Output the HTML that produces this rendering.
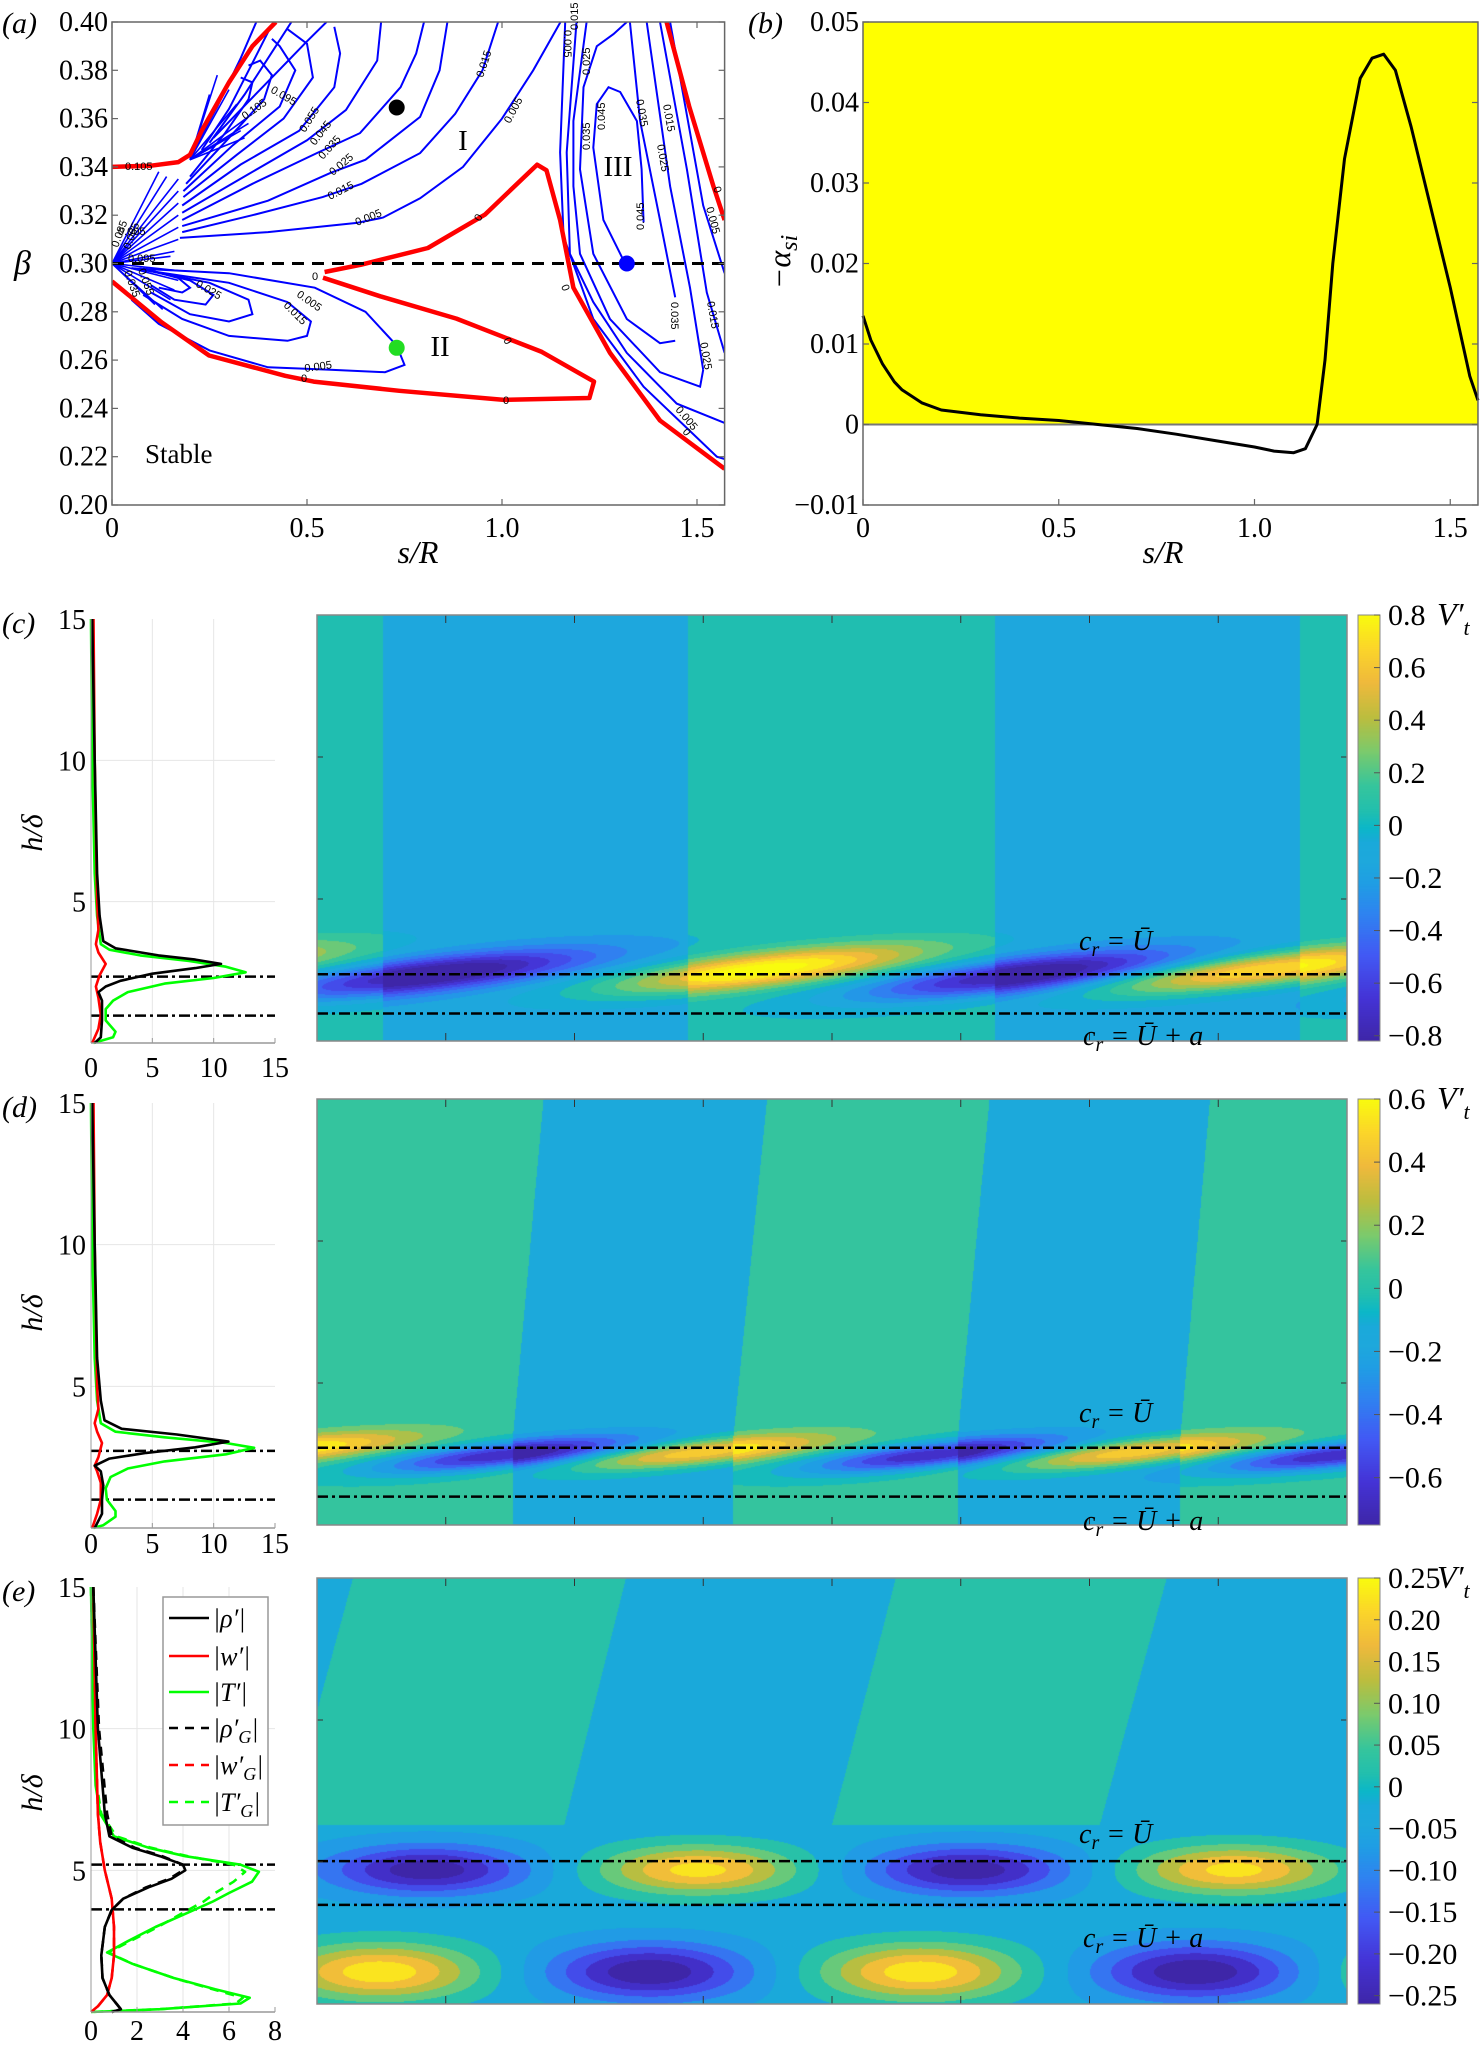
<!DOCTYPE html>
<html><head><meta charset="utf-8"><title>Stability map and disturbance fields</title>
<style>
html,body{margin:0;padding:0;background:#fff;}
#root{position:relative;width:1483px;height:2050px;overflow:hidden;background:#fff;}
canvas{position:absolute;}
svg{position:absolute;left:0;top:0;}
text{font-family:"Liberation Serif",serif;fill:#000;}
.it{font-style:italic;}
.cl{font-family:"Liberation Sans",sans-serif;font-size:11px;}
</style></head>
<body>
<div id="root">
<canvas id="heatC" width="1030" height="426" style="left:317px;top:615px"></canvas>
<canvas id="heatD" width="1030" height="426" style="left:317px;top:1099px"></canvas>
<canvas id="heatE" width="1030" height="426" style="left:317px;top:1578px"></canvas>
<canvas id="cbC" width="22" height="426" style="left:1358px;top:615px"></canvas>
<canvas id="cbD" width="22" height="426" style="left:1358px;top:1099px"></canvas>
<canvas id="cbE" width="22" height="426" style="left:1358px;top:1578px"></canvas>
<svg id="fig" width="1483" height="2050" viewBox="0 0 1483 2050" xmlns="http://www.w3.org/2000/svg">
  <g id="gA"></g>
  <g id="gB"></g>
  <g id="gP"></g>
  <g id="gH"></g>
  <text x="2" y="33" class="it" font-size="30">(a)</text>
  <text x="748" y="33" class="it" font-size="30">(b)</text>
  <text x="2" y="633" class="it" font-size="30">(c)</text>
  <text x="2" y="1117" class="it" font-size="30">(d)</text>
  <text x="2" y="1601" class="it" font-size="30">(e)</text>
  <text x="418" y="563" class="it" font-size="32" text-anchor="middle">s/R</text>
  <text x="1163" y="563" class="it" font-size="32" text-anchor="middle">s/R</text>
  <text x="14" y="274" class="it" font-size="34">β</text>
  <text transform="translate(790,262) rotate(-90)" class="it" font-size="32" text-anchor="middle">−α<tspan font-size="24" dy="7">si</tspan></text>
  <text x="145" y="463" font-size="27">Stable</text>
  <text x="463" y="150" font-size="29" text-anchor="middle">I</text>
  <text x="440" y="356" font-size="29" text-anchor="middle">II</text>
  <text x="618" y="176" font-size="29" text-anchor="middle">III</text>
  <text transform="translate(42,833) rotate(-90)" class="it" font-size="30" text-anchor="middle">h/δ</text>
  <text transform="translate(42,1313) rotate(-90)" class="it" font-size="30" text-anchor="middle">h/δ</text>
  <text transform="translate(42,1793) rotate(-90)" class="it" font-size="30" text-anchor="middle">h/δ</text>
  <text x="1079" y="950" class="it" font-size="28">c<tspan font-size="20" dy="6">r</tspan><tspan dy="-6"> = Ū</tspan></text>
  <text x="1083" y="1045" class="it" font-size="28">c<tspan font-size="20" dy="6">r</tspan><tspan dy="-6"> = Ū + a</tspan></text>
  <text x="1079" y="1422" class="it" font-size="28">c<tspan font-size="20" dy="6">r</tspan><tspan dy="-6"> = Ū</tspan></text>
  <text x="1083" y="1530" class="it" font-size="28">c<tspan font-size="20" dy="6">r</tspan><tspan dy="-6"> = Ū + a</tspan></text>
  <text x="1079" y="1843" class="it" font-size="28">c<tspan font-size="20" dy="6">r</tspan><tspan dy="-6"> = Ū</tspan></text>
  <text x="1083" y="1947" class="it" font-size="28">c<tspan font-size="20" dy="6">r</tspan><tspan dy="-6"> = Ū + a</tspan></text>
  <text x="1437" y="625" class="it" font-size="32">V′<tspan font-size="22" dy="10">t</tspan></text>
  <text x="1437" y="1109" class="it" font-size="32">V′<tspan font-size="22" dy="10">t</tspan></text>
  <text x="1437" y="1588" class="it" font-size="32">V′<tspan font-size="22" dy="10">t</tspan></text>
  <g>
    <rect x="163" y="1597" width="105" height="228" fill="#fff" stroke="#999" stroke-width="1.5"/>
    <line x1="169" y1="1618" x2="209" y2="1618" stroke="#000" stroke-width="2.5"/>
    <text x="213" y="1627" class="it" font-size="26">|ρ′|</text>
    <line x1="169" y1="1656" x2="209" y2="1656" stroke="#f00" stroke-width="2.5"/>
    <text x="213" y="1665" class="it" font-size="26">|w′|</text>
    <line x1="169" y1="1692" x2="209" y2="1692" stroke="#0f0" stroke-width="2.5"/>
    <text x="213" y="1701" class="it" font-size="26">|T′|</text>
    <line x1="169" y1="1728" x2="209" y2="1728" stroke="#000" stroke-width="2.5" stroke-dasharray="9,7"/>
    <text x="213" y="1737" class="it" font-size="26">|ρ′<tspan font-size="18" dy="6">G</tspan><tspan dy="-6">|</tspan></text>
    <line x1="169" y1="1765" x2="209" y2="1765" stroke="#f00" stroke-width="2.5" stroke-dasharray="9,7"/>
    <text x="213" y="1774" class="it" font-size="26">|w′<tspan font-size="18" dy="6">G</tspan><tspan dy="-6">|</tspan></text>
    <line x1="169" y1="1802" x2="209" y2="1802" stroke="#0f0" stroke-width="2.5" stroke-dasharray="9,7"/>
    <text x="213" y="1811" class="it" font-size="26">|T′<tspan font-size="18" dy="6">G</tspan><tspan dy="-6">|</tspan></text>
  </g>
  <g class="cl">
    <text class="cl" transform="translate(357,226) rotate(-22)">0.005</text>
    <text class="cl" transform="translate(330,200) rotate(-27)">0.015</text>
    <text class="cl" transform="translate(333,176) rotate(-40)">0.025</text>
    <text class="cl" transform="translate(323,160) rotate(-48)">0.035</text>
    <text class="cl" transform="translate(315,146) rotate(-52)">0.045</text>
    <text class="cl" transform="translate(305,133) rotate(-58)">0.055</text>
    <text class="cl" transform="translate(270,92) rotate(30)">0.095</text>
    <text class="cl" transform="translate(245,120) rotate(-35)">0.105</text>
    <text class="cl" transform="translate(483,78) rotate(-72)">0.015</text>
    <text class="cl" transform="translate(510,124) rotate(-62)">0.005</text>
    <text class="cl" transform="translate(296,296) rotate(35)">0.005</text>
    <text class="cl" transform="translate(283,306) rotate(45)">0.015</text>
    <text class="cl" transform="translate(305,372) rotate(-8)">0.005</text>
    <text class="cl" transform="translate(195,286) rotate(30)">0.025</text>
    <text class="cl" transform="translate(480,222) rotate(-60)">0</text>
    <text class="cl" transform="translate(312,280)">0</text>
    <text class="cl" transform="translate(503,340) rotate(60)">0</text>
    <text class="cl" transform="translate(503,404)">0</text>
    <text class="cl" transform="translate(301,382)">0</text>
    <text class="cl" transform="translate(561,286) rotate(70)">0</text>
    <text class="cl" transform="translate(564,30) rotate(90)">0.005</text>
    <text class="cl" transform="translate(578,30) rotate(-90)">0.015</text>
    <text class="cl" transform="translate(590,75) rotate(-90)">0.025</text>
    <text class="cl" transform="translate(590,150) rotate(-90)">0.035</text>
    <text class="cl" transform="translate(605,130) rotate(-90)">0.045</text>
    <text class="cl" transform="translate(636,100) rotate(80)">0.035</text>
    <text class="cl" transform="translate(663,105) rotate(80)">0.015</text>
    <text class="cl" transform="translate(657,145) rotate(80)">0.025</text>
    <text class="cl" transform="translate(706,208) rotate(75)">0.005</text>
    <text class="cl" transform="translate(644,230) rotate(-90)">0.045</text>
    <text class="cl" transform="translate(671,302) rotate(90)">0.035</text>
    <text class="cl" transform="translate(707,302) rotate(80)">0.015</text>
    <text class="cl" transform="translate(700,343) rotate(80)">0.025</text>
    <text class="cl" transform="translate(675,410) rotate(50)">0.005</text>
    <text class="cl" transform="translate(682,432) rotate(50)">0</text>
    <text class="cl" transform="translate(713,188) rotate(70)">0</text>
    <text class="cl" transform="translate(125,170)">0.105</text>
    <text class="cl" transform="translate(118,248) rotate(-70)">0.085</text>
    <text class="cl" transform="translate(130,250) rotate(-70)">0.065</text>
    <text class="cl" transform="translate(124,272) rotate(70)">0.035</text>
    <text class="cl" transform="translate(138,270) rotate(70)">0.055</text>
    <text class="cl" transform="translate(118,235)">0.005</text>
    <text class="cl" transform="translate(128,262)">0.095</text>
  </g>
</svg>
</div>
<script>
// ===================== PANEL (a) data =====================
const aXTicks=[0,0.5,1.0,1.5];
const aXTickLabels=['0','0.5','1.0','1.5'];
const aYTicks=[0.40,0.38,0.36,0.34,0.32,0.30,0.28,0.26,0.24,0.22,0.20];
const aYTickLabels=['0.40','0.38','0.36','0.34','0.32','0.30','0.28','0.26','0.24','0.22','0.20'];
const aRed1=[[0,0.340],[0.1,0.3405],[0.17,0.342],[0.2,0.345],[0.23,0.355],[0.3,0.375],[0.36,0.39],[0.42,0.40]];
const aRed2=[[0,0.2926],[0.127,0.2757],[0.249,0.2619],[0.444,0.2535],[0.517,0.2511],[0.737,0.2473],[1.005,0.2435],[1.224,0.2443],[1.236,0.2511],[1.102,0.2634],[0.883,0.2772],[0.688,0.2864],[0.541,0.2941]];
const aRed3=[[0.545,0.2965],[0.639,0.2995],[0.810,0.3064],[0.956,0.3202],[1.090,0.3409],[1.114,0.3386],[1.149,0.318],[1.183,0.29],[1.277,0.263],[1.405,0.235],[1.5708,0.215]];
const aRed4=[[1.422,0.40],[1.48,0.365],[1.542,0.332],[1.5708,0.318]];
const aBlueI=[
 [[0.174,0.3106],[0.4,0.313],[0.628,0.3168],[0.695,0.319],[0.79,0.327],[0.9,0.34],[1.0,0.36],[1.08,0.38],[1.15,0.40]],
 [[0.18,0.313],[0.36,0.32],[0.54,0.3275],[0.64,0.333],[0.79,0.3457],[0.88,0.362],[0.95,0.38],[0.99,0.40]],
 [[0.18,0.3155],[0.4,0.326],[0.56,0.3375],[0.65,0.343],[0.79,0.3607],[0.84,0.38],[0.86,0.40]],
 [[0.18,0.318],[0.36,0.333],[0.525,0.3457],[0.636,0.354],[0.74,0.373],[0.78,0.387],[0.8,0.40]],
 [[0.18,0.321],[0.35,0.337],[0.5,0.351],[0.6,0.3636],[0.68,0.384],[0.69,0.40]],
 [[0.18,0.324],[0.33,0.341],[0.48,0.355],[0.57,0.373],[0.585,0.387],[0.57,0.398]],
 [[0.183,0.3275],[0.32,0.345],[0.44,0.36],[0.515,0.377],[0.5,0.391],[0.45,0.397]],
 [[0.183,0.33],[0.31,0.349],[0.43,0.365],[0.47,0.38],[0.43,0.39],[0.41,0.393]],
 [[0.19,0.333],[0.3,0.352],[0.39,0.368],[0.41,0.378],[0.38,0.384],[0.35,0.382]],
 [[0.2,0.336],[0.29,0.354],[0.35,0.368],[0.36,0.375],[0.33,0.377]],
 [[0.21,0.347],[0.27,0.365],[0.33,0.385],[0.37,0.40]],
 [[0.23,0.347],[0.3,0.364],[0.36,0.383],[0.41,0.399]],
 [[0.25,0.35],[0.34,0.37],[0.42,0.39],[0.46,0.40]],
 [[0.26,0.352],[0.38,0.372],[0.5,0.392],[0.55,0.40]]
];
const aBlueII=[
 [[0.05,0.298],[0.3,0.296],[0.52,0.29],[0.65,0.28],[0.73,0.266],[0.75,0.258],[0.7,0.255],[0.56,0.256],[0.4,0.257],[0.25,0.264],[0.12,0.275],[0.05,0.285]],
 [[0.05,0.298],[0.3,0.292],[0.45,0.284],[0.51,0.276],[0.5,0.27],[0.45,0.268],[0.3,0.27],[0.18,0.277],[0.08,0.287]],
 [[0.06,0.298],[0.25,0.292],[0.35,0.285],[0.36,0.279],[0.3,0.276],[0.2,0.279],[0.1,0.288]],
 [[0.07,0.298],[0.2,0.293],[0.26,0.287],[0.24,0.283],[0.16,0.285],[0.1,0.291]],
 [[0.08,0.298],[0.17,0.294],[0.2,0.29],[0.18,0.288],[0.12,0.29]]
];
const aBlueIII=[
 [[1.311,0.3015],[1.26,0.318],[1.234,0.348],[1.243,0.366],[1.273,0.373],[1.303,0.371],[1.346,0.359],[1.358,0.339],[1.363,0.317]],
 [[1.444,0.268],[1.405,0.267],[1.32,0.277],[1.234,0.304],[1.2,0.339],[1.209,0.373],[1.243,0.39],[1.286,0.395],[1.32,0.40]],
 [[1.328,0.40],[1.354,0.359],[1.405,0.318],[1.444,0.286]],
 [[1.217,0.40],[1.183,0.359],[1.183,0.332],[1.2,0.304],[1.277,0.277],[1.405,0.255],[1.508,0.249],[1.516,0.256]],
 [[1.371,0.40],[1.431,0.332],[1.482,0.29],[1.516,0.256]],
 [[1.191,0.40],[1.166,0.346],[1.174,0.304],[1.234,0.284],[1.32,0.263],[1.448,0.242],[1.5708,0.234]],
 [[1.405,0.40],[1.474,0.339],[1.525,0.288],[1.5708,0.263]],
 [[1.162,0.40],[1.149,0.346],[1.158,0.311],[1.234,0.277],[1.363,0.249],[1.551,0.22],[1.5708,0.219]],
 [[1.431,0.40],[1.516,0.324],[1.5708,0.296]]
];
const aFanEnds=[[0.17,0.335],[0.17,0.33],[0.17,0.325],[0.17,0.32],[0.17,0.315],[0.17,0.31],[0.16,0.305],[0.15,0.303],[0.17,0.297],[0.17,0.293],[0.16,0.289],[0.15,0.285],[0.13,0.281],[0.11,0.283],[0.12,0.338],[0.14,0.336]];
const aFanOrigin=[0,0.30];
const aFan2Ends=[[0.36,0.362],[0.35,0.358],[0.33,0.355],[0.3,0.372],[0.27,0.378],[0.32,0.366],[0.28,0.37],[0.25,0.37],[0.34,0.352]];
const aFan2Origin=[0.2,0.343];
const aDots=[{s:0.73,b:0.3646,c:'#000'},{s:0.73,b:0.2651,c:'#22dd22'},{s:1.32,b:0.300,c:'#0000ff'}];
const aDashBeta=0.30;

// ===================== PANEL (b) data =====================
const bS=[0,0.02,0.05,0.08,0.1,0.15,0.2,0.3,0.4,0.5,0.6,0.7,0.8,0.9,1.0,1.05,1.1,1.13,1.16,1.18,1.2,1.23,1.27,1.3,1.33,1.36,1.4,1.45,1.5,1.55,1.5708];
const bAlpha=[0.0135,0.0105,0.0075,0.0053,0.0043,0.0027,0.0018,0.0012,0.0008,0.0005,0.0,-0.0005,-0.0012,-0.002,-0.0028,-0.0033,-0.0035,-0.003,0.0,0.008,0.02,0.033,0.043,0.0455,0.046,0.044,0.037,0.027,0.017,0.006,0.003];
const bYTicks=[0.05,0.04,0.03,0.02,0.01,0,-0.01];
const bYTickLabels=['0.05','0.04','0.03','0.02','0.01','0','−0.01'];
const bXTicks=[0,0.5,1.0,1.5];
const bXTickLabels=['0','0.5','1.0','1.5'];

// ===================== PROFILES =====================
const cRhoH=[15,10,6,4.5,3.6,3.35,3.1,2.95,2.8,2.65,2.45,2.2,2.0,1.8,1.5,0.8,0.2,0];
const cRho=[0.1,0.3,0.5,0.7,1.0,2.0,5.5,8.5,10.6,8.5,5,2.4,1.2,0.6,0.9,0.9,0.8,0.3];
const cTH=[15,10,6,4.5,3.5,3.3,3.1,2.9,2.7,2.5,2.3,2.1,1.8,1.5,1.2,0.8,0.4,0.2,0];
const cT=[0,0.1,0.3,0.5,0.8,1.5,4,8,11,12.6,10,6,3,1.8,1.2,1.2,2.0,1.8,0.2];
const cWH=[15,10,5,4,3.5,3.2,2.8,2.4,2.0,1.6,1.0,0.5,0];
const cW=[0.2,0.3,0.5,0.6,0.4,0.6,1.2,0.7,0.4,0.6,0.8,0.6,0.1];
const dRhoH=[15,10,6,4.5,3.8,3.5,3.3,3.05,2.85,2.65,2.45,2.2,2.0,1.5,1.0,0.5,0];
const dRho=[0.1,0.3,0.5,0.8,1.1,2.5,7,11.2,8.5,4.5,1.5,0.3,0.8,1.0,0.9,0.9,0.3];
const dTH=[15,10,6,4.5,3.7,3.4,3.2,3.0,2.83,2.6,2.35,2.1,1.8,1.4,1.0,0.6,0.4,0.1,0];
const dT=[0,0.1,0.3,0.5,0.8,2,6,11,13.3,11,6,3,1.6,1.2,1.3,2.0,2.0,1.0,0.2];
const dWH=[15,10,5,4.2,3.7,3.4,3.0,2.5,2.2,2.0,1.6,1.0,0.5,0];
const dW=[0.2,0.3,0.5,0.6,0.3,0.5,0.9,0.6,0.3,0.5,0.8,0.8,0.5,0.1];
const eRhoH=[15,10,7,6.2,5.8,5.5,5.2,5.0,4.7,4.4,4.0,3.6,3.0,2.0,1.2,0.6,0.3,0.1,0];
const eRho=[0.1,0.3,0.6,0.8,1.8,3.0,4.0,4.1,3.5,2.5,1.4,0.9,0.6,0.45,0.5,0.8,1.1,1.3,0.9];
const eRhoGH=[15,10,7,6.2,5.8,5.5,5.2,5.0,4.7,4.4,4.0,3.6,3.0,2.0,1.2,0.6,0.3,0.1,0];
const eRhoG=[0.1,0.35,0.7,0.9,1.9,3.1,4.0,4.0,3.4,2.4,1.4,0.9,0.6,0.45,0.5,0.8,1.1,1.3,0.9];
const eTH=[15,10,8,7,6.2,5.8,5.5,5.2,4.95,4.6,4.2,3.9,3.5,3.0,2.5,2.1,1.7,1.2,0.8,0.5,0.3,0.1,0];
const eT=[0,0.1,0.2,0.4,1.0,2.5,4.1,6.5,7.3,7.0,6.0,5.3,4.2,2.8,1.6,0.7,1.8,3.6,5.4,6.9,6.5,3,0];
const eTG=[0,0.12,0.25,0.45,1.1,2.6,4.2,6.2,6.7,6.2,5.4,4.9,4.0,2.9,1.7,0.75,1.8,3.6,5.3,6.6,6.3,3,0];
const eWH=[15,10,7,6,5,4,3,2,1.2,0.6,0.2,0];
const eW=[0.1,0.2,0.3,0.4,0.6,0.9,1.0,1.0,0.9,0.7,0.3,0];
const profXTicksCD=[0,5,10,15], profXTicksE=[0,2,4,6,8];
const profYTicks=[15,10,5];
const cLines=[2.35,0.97], dLines=[2.72,1.0], eLines=[5.2,3.62];

// ===================== HEATMAPS =====================
const cStripeTop=[0.064,0.36,0.658,0.954], cStripeBot=[0.064,0.36,0.658,0.954];
const cStripeVals=[0.03,-0.15,0.03,-0.15,0.03];
const dStripeTop=[0.22,0.437,0.653,0.867], dStripeBot=[0.19,0.404,0.622,0.838];
const dStripeVals=[0.03,-0.15,0.03,-0.15,0.03];
const eStripeTop=[0.035,0.30,0.562,0.825], eStripeBot=[-0.03,0.24,0.50,0.76];
const eStripeVals=[-0.03,0.02,-0.03,0.02,-0.03];
const cLobeX=[-0.15,0.107,0.43,0.68,0.917,1.2];
const cLobeH=[2.5,2.32,2.5,2.3,2.5,2.3];
const cLobeA=[0.85,-0.85,0.85,-0.85,0.85,-0.85];
const dLobeX=[-0.03,0.18,0.37,0.595,0.79,0.99];
const dLobeH=[2.65,2.45,2.55,2.45,2.55,2.45];
const dLobeA=[0.6,-0.72,0.62,-0.72,0.62,-0.72];
const eLobeX=[0.107,0.37,0.632,0.89,0.061,0.323,0.586,0.853,1.11];
const eLobeH=[4.72,4.72,4.72,4.72,1.13,1.13,1.13,1.13,1.13];
const eLobeA=[-0.255,0.25,-0.255,0.25,0.265,-0.265,0.265,-0.265,0.265];
const cCbTicks=[0.8,0.6,0.4,0.2,0,-0.2,-0.4,-0.6,-0.8];
const cCbLabels=['0.8','0.6','0.4','0.2','0','−0.2','−0.4','−0.6','−0.8'];
const dCbTicks=[0.6,0.4,0.2,0,-0.2,-0.4,-0.6];
const dCbLabels=['0.6','0.4','0.2','0','−0.2','−0.4','−0.6'];
const eCbTicks=[0.25,0.2,0.15,0.1,0.05,0,-0.05,-0.1,-0.15,-0.2,-0.25];
const eCbLabels=['0.25','0.20','0.15','0.10','0.05','0','−0.05','−0.10','−0.15','−0.20','−0.25'];

// ===================== helpers =====================
const NS='http://www.w3.org/2000/svg';
function mk(parent,tag,attrs,name){
  const e=document.createElementNS(NS,tag);
  for(const k in attrs) e.setAttribute(k,attrs[k]);
  
  
  parent.appendChild(e);
  return e;
}
function txt(parent,x,y,s,anchor,size,name){
  const t=mk(parent,'text',{x:x,y:y,'text-anchor':anchor,'font-size':size,'font-family':'Liberation Serif, serif'},name);
  t.textContent=s; return t;
}
function pathOf(pts,fx,fy){return pts.map((p,i)=>(i?'L':'M')+fx(p[0]).toFixed(1)+' '+fy(p[1]).toFixed(1)).join(' ');}

// ===================== panel (a) =====================
(function(){
  const g=document.getElementById('gA');
  const x0=112,y0=22,y1=505,pxU=390;
  const X=s=>x0+s*pxU, Y=b=>y0+(0.4-b)/0.2*(y1-y0);
  const xr=X(Math.PI/2);
  mk(g,'rect',{x:x0,y:y0,width:xr-x0,height:y1-y0,fill:'#fff'},'plot-area-a');
  const clip=mk(g,'clipPath',{id:'clipA'},'clip-a');
  mk(clip,'rect',{x:x0,y:y0,width:xr-x0,height:y1-y0},'clip-rect-a');
  const cg=mk(g,'g',{'clip-path':'url(#clipA)'},'contours-a');
  aFanEnds.forEach(p=>mk(cg,'path',{d:pathOf([aFanOrigin,p],X,Y),stroke:'#00f','stroke-width':1.6,fill:'none'},'contour-fan'));
  aFan2Ends.forEach(p=>mk(cg,'path',{d:pathOf([aFan2Origin,p],X,Y),stroke:'#00f','stroke-width':1.6,fill:'none'},'contour-fan'));
  aBlueI.forEach(c=>mk(cg,'path',{d:pathOf(c,X,Y),stroke:'#00f','stroke-width':2,fill:'none'},'contour-region-1'));
  aBlueII.forEach(c=>mk(cg,'path',{d:pathOf(c,X,Y),stroke:'#00f','stroke-width':2,fill:'none'},'contour-region-2'));
  aBlueIII.forEach(c=>mk(cg,'path',{d:pathOf(c,X,Y),stroke:'#00f','stroke-width':2,fill:'none'},'contour-region-3'));
  [aRed1,aRed2,aRed3,aRed4].forEach(c=>mk(cg,'path',{d:pathOf(c,X,Y),stroke:'#f00','stroke-width':4.5,fill:'none','stroke-linejoin':'round'},'neutral-curve'));
  mk(cg,'line',{x1:X(0),x2:xr,y1:Y(aDashBeta),y2:Y(aDashBeta),stroke:'#000','stroke-width':3,'stroke-dasharray':'12,8'},'beta-dashed-line');
  aDots.forEach(d=>mk(cg,'circle',{cx:X(d.s),cy:Y(d.b),r:8,fill:d.c},'marker-dot'));
  mk(g,'rect',{x:x0,y:y0,width:xr-x0,height:y1-y0,fill:'none',stroke:'#666','stroke-width':1.5},'axes-box-a');
  aYTicks.forEach((v,i)=>{
    mk(g,'line',{x1:x0,x2:x0+6,y1:Y(v),y2:Y(v),stroke:'#666','stroke-width':1.2},'y-tick-a');
    mk(g,'line',{x1:xr,x2:xr-6,y1:Y(v),y2:Y(v),stroke:'#666','stroke-width':1.2},'y-tick-a-right');
    txt(g,x0-4,Y(v)+9,aYTickLabels[i],'end',28,'y-tick-label-a');
  });
  aXTicks.forEach((v,i)=>{
    mk(g,'line',{x1:X(v),x2:X(v),y1:y1,y2:y1-6,stroke:'#666','stroke-width':1.2},'x-tick-a');
    mk(g,'line',{x1:X(v),x2:X(v),y1:y0,y2:y0+6,stroke:'#666','stroke-width':1.2},'x-tick-a-top');
    txt(g,X(v),537,aXTickLabels[i],'middle',28,'x-tick-label-a');
  });
})();

// ===================== panel (b) =====================
(function(){
  const g=document.getElementById('gB');
  const x0=863,y0=22,y1=505,pxU=391.5;
  const X=s=>x0+s*pxU, Y=v=>y0+(0.05-v)/0.06*(y1-y0);
  const xr=X(Math.PI/2);
  mk(g,'rect',{x:x0,y:Y(0.05),width:xr-x0,height:Y(0)-Y(0.05),fill:'#ffff00'},'unstable-region-fill');
  mk(g,'line',{x1:x0,x2:xr,y1:Y(0),y2:Y(0),stroke:'#777','stroke-width':2},'zero-line');
  const pts=bS.map((s,i)=>[s,bAlpha[i]]);
  mk(g,'path',{d:pathOf(pts,X,Y),stroke:'#000','stroke-width':3,fill:'none','stroke-linejoin':'round'},'growth-rate-curve');
  mk(g,'rect',{x:x0,y:y0,width:xr-x0,height:y1-y0,fill:'none',stroke:'#666','stroke-width':1.5},'axes-box-b');
  bYTicks.forEach((v,i)=>{
    mk(g,'line',{x1:x0,x2:x0+6,y1:Y(v),y2:Y(v),stroke:'#666','stroke-width':1.2},'y-tick-b');
    mk(g,'line',{x1:xr,x2:xr-6,y1:Y(v),y2:Y(v),stroke:'#666','stroke-width':1.2},'y-tick-b-right');
    txt(g,x0-4,Y(v)+9,bYTickLabels[i],'end',28,'y-tick-label-b');
  });
  bXTicks.forEach((v,i)=>{
    mk(g,'line',{x1:X(v),x2:X(v),y1:y1,y2:y1-6,stroke:'#666','stroke-width':1.2},'x-tick-b');
    txt(g,X(v),537,bXTickLabels[i],'middle',28,'x-tick-label-b');
  });
})();

// ===================== profiles =====================
function drawProfile(cfg){
  const g=mk(document.getElementById('gP'),'g',{},cfg.name);
  const x0=91,x1=275;
  const X=v=>x0+v/cfg.xmax*(x1-x0), Y=h=>cfg.y1-h/15*(cfg.y1-cfg.y0);
  mk(g,'rect',{x:x0,y:cfg.y0,width:x1-x0,height:cfg.y1-cfg.y0,fill:'#fff'},'profile-area');
  cfg.xt.forEach(v=>{ if(v>0&&v<cfg.xmax) mk(g,'line',{x1:X(v),x2:X(v),y1:cfg.y0,y2:cfg.y1,stroke:'#e6e6e6','stroke-width':1},'grid-line-x'); });
  [5,10].forEach(v=>mk(g,'line',{x1:x0,x2:x1,y1:Y(v),y2:Y(v),stroke:'#e6e6e6','stroke-width':1},'grid-line-y'));
  const clipId='clip'+cfg.name;
  const cp=mk(g,'clipPath',{id:clipId},'clip');
  mk(cp,'rect',{x:x0-2,y:cfg.y0,width:x1-x0+4,height:cfg.y1-cfg.y0+2},'clip-rect');
  const cg=mk(g,'g',{'clip-path':'url(#'+clipId+')'},'profile-curves');
  cfg.lines.forEach(h=>mk(cg,'line',{x1:x0,x2:x1,y1:Y(h),y2:Y(h),stroke:'#000','stroke-width':2.5,'stroke-dasharray':'11,4,3,4'},'critical-layer-line'));
  cfg.series.forEach(s=>{
    const pts=s.h.map((h,i)=>[s.v[i],h]);
    const a={d:pathOf(pts,X,Y),stroke:s.c,'stroke-width':2.6,fill:'none','stroke-linejoin':'round'};
    if(s.dash) a['stroke-dasharray']='9,7';
    mk(cg,'path',a,s.name);
  });
  mk(g,'line',{x1:x0,x2:x1,y1:cfg.y1,y2:cfg.y1,stroke:'#999','stroke-width':1.5},'x-axis-line');
  mk(g,'line',{x1:x0,x2:x0,y1:cfg.y0,y2:cfg.y1,stroke:'#999','stroke-width':1},'y-axis-line');
  cfg.xt.forEach(v=>{
    mk(g,'line',{x1:X(v),x2:X(v),y1:cfg.y1,y2:cfg.y1-5,stroke:'#999','stroke-width':1},'x-tick');
    txt(g,X(v),cfg.labY,String(v),'middle',28,'x-tick-label');
  });
  profYTicks.forEach(v=>txt(g,86,Y(v)+10,String(v),'end',28,'y-tick-label'));
}
drawProfile({name:'profile-c',y0:619,y1:1043,xmax:15,xt:profXTicksCD,labY:1077,lines:cLines,series:[
 {h:cTH,v:cT,c:'#00ff00',name:'curve-T'},{h:cWH,v:cW,c:'#ff0000',name:'curve-w'},{h:cRhoH,v:cRho,c:'#000',name:'curve-rho'}]});
drawProfile({name:'profile-d',y0:1103,y1:1528,xmax:15,xt:profXTicksCD,labY:1553,lines:dLines,series:[
 {h:dTH,v:dT,c:'#00ff00',name:'curve-T'},{h:dWH,v:dW,c:'#ff0000',name:'curve-w'},{h:dRhoH,v:dRho,c:'#000',name:'curve-rho'}]});
drawProfile({name:'profile-e',y0:1587,y1:2012,xmax:8,xt:profXTicksE,labY:2040,lines:eLines,series:[
 {h:eTH,v:eT,c:'#00ff00',name:'curve-T'},{h:eTH,v:eTG,c:'#00ff00',dash:1,name:'curve-T-G'},
 {h:eWH,v:eW,c:'#ff0000',name:'curve-w'},{h:eWH,v:eW,c:'#ff0000',dash:1,name:'curve-w-G'},
 {h:eRhoH,v:eRho,c:'#000',name:'curve-rho'},{h:eRhoGH,v:eRhoG,c:'#000',dash:1,name:'curve-rho-G'}]});

// ===================== colormap =====================
const cmStops=[[0,'#3e26a8'],[0.1,'#4433d6'],[0.2,'#4259f4'],[0.3,'#2e84f0'],[0.37,'#1f9ee4'],[0.42,'#1ea8dc'],[0.465,'#1aa9da'],[0.5,'#0cb7c8'],[0.54,'#22bfae'],[0.6,'#36c59c'],[0.68,'#7cca6c'],[0.76,'#bcbd3e'],[0.84,'#efb93c'],[0.92,'#fbd52a'],[1,'#f9fb0e']].map(s=>[s[0],parseInt(s[1].slice(1,3),16),parseInt(s[1].slice(3,5),16),parseInt(s[1].slice(5,7),16)]);
function cmap(t){
  t=Math.max(0,Math.min(1,t));
  for(let i=1;i<cmStops.length;i++){
    if(t<=cmStops[i][0]){const a=cmStops[i-1],b=cmStops[i],f=(t-a[0])/(b[0]-a[0]);
      return [a[1]+(b[1]-a[1])*f,a[2]+(b[2]-a[2])*f,a[3]+(b[3]-a[3])*f];}
  }
  return cmStops[cmStops.length-1].slice(1);
}
function drawHeat(id,cfg){
  const cv=document.getElementById(id),ctx=cv.getContext('2d');
  const w=cv.width,h=cv.height,img=ctx.createImageData(w,h),D=img.data;
  for(let py=0;py<h;py++){
    const hv=15*(1-(py+0.5)/h);
    const f=Math.max(0,Math.min(1,(15-hv)/(15-cfg.hb)));
    const edges=cfg.st.map((t,i)=>t+(cfg.sb[i]-t)*f);
    for(let px=0;px<w;px++){
      const xf=(px+0.5)/w;
      let k=0; while(k<edges.length&&xf>edges[k])k++;
      let v=cfg.sv[k];
      if(cfg.low!==undefined&&hv<cfg.lowH) v=cfg.low;
      for(let j=0;j<cfg.lx.length;j++){
        const u=xf-cfg.lx[j]; const q=(hv-cfg.lh[j])-cfg.tilt*u;
        const shj=(cfg.lh[j]<2)?cfg.sh*1.15:cfg.sh;
        const e=(u*u)/(cfg.sx*cfg.sx)+(q*q)/(shj*shj);
        if(e<14) v+=cfg.la[j]*Math.exp(-e);
      }
      const lv=Math.floor(v/cfg.step)*cfg.step+cfg.step/2;
      const c=cmap((lv-cfg.min)/(cfg.max-cfg.min));
      const o=(py*w+px)*4; D[o]=c[0];D[o+1]=c[1];D[o+2]=c[2];D[o+3]=255;
    }
  }
  ctx.putImageData(img,0,0);
  const cb=document.getElementById(cfg.cb),cc=cb.getContext('2d');
  for(let y=0;y<cb.height;y++){const c=cmap(1-(y+0.5)/cb.height);cc.fillStyle='rgb('+c.map(Math.round).join(',')+')';cc.fillRect(0,y,cb.width,1);}
  const g=mk(document.getElementById('gH'),'g',{},cfg.name+'-overlay');
  const x0=317,x1=1347,Y=hh=>cfg.y1-hh/15*(cfg.y1-cfg.y0);
  cfg.lines.forEach(hh=>mk(g,'line',{x1:x0,x2:x1,y1:Y(hh),y2:Y(hh),stroke:'#000','stroke-width':2.5,'stroke-dasharray':'11,4,3,4'},'critical-layer-line'));
  for(let i=1;i<8;i++){const xx=x0+(x1-x0)*i/8;
    mk(g,'line',{x1:xx,x2:xx,y1:cfg.y0,y2:cfg.y0+8,stroke:'#333','stroke-width':1},'heat-tick-top');
    mk(g,'line',{x1:xx,x2:xx,y1:cfg.y1,y2:cfg.y1-8,stroke:'#333','stroke-width':1},'heat-tick-bottom');}
  [5,10].forEach(hh=>{mk(g,'line',{x1:x0,x2:x0+6,y1:Y(hh),y2:Y(hh),stroke:'#333','stroke-width':1},'heat-tick-left');
    mk(g,'line',{x1:x1,x2:x1-6,y1:Y(hh),y2:Y(hh),stroke:'#333','stroke-width':1},'heat-tick-right');});
  mk(g,'rect',{x:x0,y:cfg.y0,width:x1-x0,height:cfg.y1-cfg.y0,fill:'none',stroke:'#888','stroke-width':1.5},'heat-frame');
  mk(g,'rect',{x:1358,y:cfg.y0,width:22,height:cfg.y1-cfg.y0,fill:'none',stroke:'#888','stroke-width':1},'colorbar-frame');
  const CY=v=>cfg.y0+(cfg.max-v)/(cfg.max-cfg.min)*(cfg.y1-cfg.y0);
  cfg.ticks.forEach((v,i)=>{
    mk(g,'line',{x1:1374,x2:1380,y1:CY(v),y2:CY(v),stroke:'#555','stroke-width':1},'colorbar-tick');
    txt(g,1388,CY(v)+10,cfg.labels[i],'start',30,'colorbar-tick-label');
  });
}
drawHeat('heatC',{name:'heatmap-c',cb:'cbC',y0:615,y1:1041,st:cStripeTop,sb:cStripeBot,sv:cStripeVals,hb:0,lx:cLobeX,lh:cLobeH,la:cLobeA,tilt:4,sx:0.15,sh:0.58,step:0.1,min:-0.82,max:0.8,lines:cLines,ticks:cCbTicks,labels:cCbLabels});
drawHeat('heatD',{name:'heatmap-d',cb:'cbD',y0:1099,y1:1525,st:dStripeTop,sb:dStripeBot,sv:dStripeVals,hb:3,lx:dLobeX,lh:dLobeH,la:dLobeA,tilt:3.5,sx:0.12,sh:0.45,step:0.1,min:-0.75,max:0.6,lines:dLines,ticks:dCbTicks,labels:dCbLabels});
drawHeat('heatE',{name:'heatmap-e',cb:'cbE',y0:1578,y1:2004,st:eStripeTop,sb:eStripeBot,sv:eStripeVals,hb:6.3,low:-0.03,lowH:6.3,lx:eLobeX,lh:eLobeH,la:eLobeA,tilt:0,sx:0.095,sh:0.85,step:0.05,min:-0.26,max:0.25,lines:[5.03,3.49],ticks:eCbTicks,labels:eCbLabels});
</script>
</body></html>
